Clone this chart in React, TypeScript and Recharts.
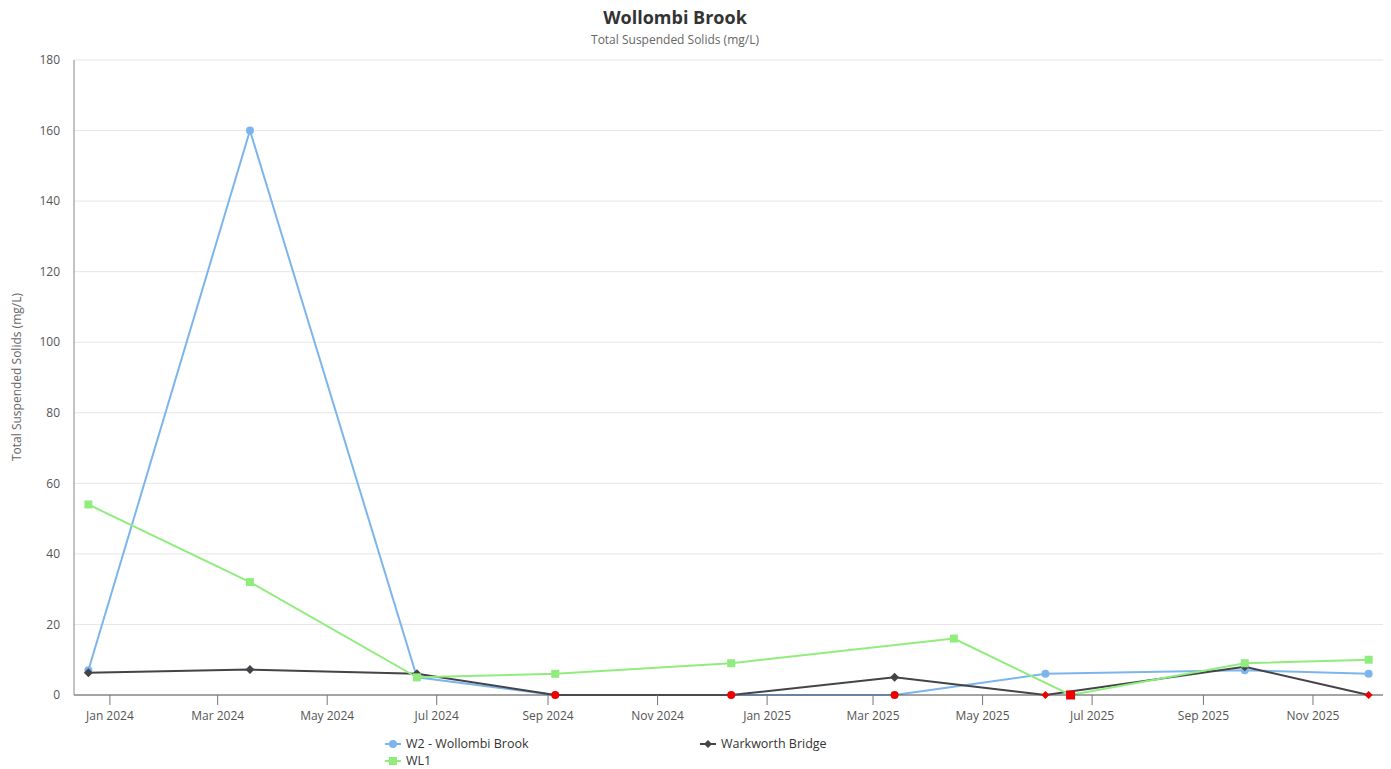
import React, { useEffect } from "react";
import { LineChart, Line, XAxis, YAxis, CartesianGrid } from "recharts";

// sample dates + values
const w2Dates = ["2023-12-20", "2024-03-19", "2024-06-20", "2024-09-05", "2024-12-12", "2025-03-13", "2025-06-05", "2025-09-24", "2025-12-02"];
const w2Values = [7, 160, 5, 0, 0, 0, 6, 7, 6];

const wl1Dates = ["2023-12-20", "2024-03-19", "2024-06-20", "2024-09-05", "2024-12-12", "2025-04-15", "2025-06-19", "2025-09-24", "2025-12-02"];
const wl1Values = [54, 32, 5, 6, 9, 16, 0, 9, 10];

const warkDates = ["2023-12-20", "2024-03-19", "2024-06-20", "2024-09-05", "2024-12-12", "2025-03-13", "2025-06-05", "2025-09-24", "2025-12-02"];
const warkValues = [6.3, 7.2, 6, 0, 0, 5, 0, 8, 0];

const xTickLabels = ["Jan 2024", "Mar 2024", "May 2024", "Jul 2024", "Sep 2024", "Nov 2024", "Jan 2025", "Mar 2025", "May 2025", "Jul 2025", "Sep 2025", "Nov 2025"];
const yTicks = [0, 20, 40, 60, 80, 100, 120, 140, 160, 180];

const MONTHS = ["Jan", "Feb", "Mar", "Apr", "May", "Jun", "Jul", "Aug", "Sep", "Oct", "Nov", "Dec"];
const toTs = (d: string) => Date.parse(d + "T00:00:00Z");
const labelToTs = (l: string) => {
  const [m, y] = l.split(" ");
  return Date.UTC(Number(y), MONTHS.indexOf(m), 1);
};
const xTicks = xTickLabels.map(labelToTs);
const fmtTick = (v: number) => {
  const d = new Date(v);
  return `${MONTHS[d.getUTCMonth()]} ${d.getUTCFullYear()}`;
};

const build = (dates: string[], values: number[]) =>
  dates.map((d, i) => ({ x: toTs(d), y: values[i] }));

const w2Data = build(w2Dates, w2Values);
const wl1Data = build(wl1Dates, wl1Values);
const warkData = build(warkDates, warkValues);

const BLUE = "#7cb5ec";
const GREEN = "#90ed7d";
const DARK = "#434348";
const RED = "#ee0000";
const FONT = "'Open Sans', 'Noto Sans', sans-serif";

const CircleDot = (props: any) => {
  const { cx, cy, value, index } = props;
  if (cx == null || cy == null) return <g key={index} />;
  return <circle key={index} cx={cx} cy={cy} r={4} fill={value === 0 ? RED : BLUE} />;
};

const SquareDot = (props: any) => {
  const { cx, cy, value, index } = props;
  if (cx == null || cy == null) return <g key={index} />;
  const s = value === 0 ? 9 : 8;
  return <rect key={index} x={cx - s / 2} y={cy - s / 2} width={s} height={s} fill={value === 0 ? RED : GREEN} />;
};

const DiamondDot = (props: any) => {
  const { cx, cy, value, index } = props;
  if (cx == null || cy == null) return <g key={index} />;
  const r = value === 0 ? 4 : 4.5;
  return (
    <path
      key={index}
      d={`M${cx} ${cy - r} L${cx + r} ${cy} L${cx} ${cy + r} L${cx - r} ${cy} Z`}
      fill={value === 0 ? RED : DARK}
    />
  );
};

const YTitle = () => (
  <text
    x={21}
    y={377}
    transform="rotate(-90 21 377)"
    textAnchor="middle"
    fontSize={12}
    fill="#666"
    fontFamily={FONT}
  >
    Total Suspended Solids (mg/L)
  </text>
);

function LegendItem({ color, label, shape }: { color: string; label: string; shape: string }) {
  return (
    <div style={{ display: "flex", alignItems: "center", gap: 5, height: 16.5 }}>
      <svg width={16} height={10}>
        <line x1={0} y1={5} x2={16} y2={5} stroke={color} strokeWidth={2} />
        {shape === "circle" && <circle cx={8} cy={5} r={4} fill={color} />}
        {shape === "square" && <rect x={4} y={1} width={8} height={8} fill={color} />}
        {shape === "diamond" && <path d="M8 1 L12 5 L8 9 L4 5 Z" fill={color} />}
      </svg>
      <span>{label}</span>
    </div>
  );
}

export default function App() {
  useEffect(() => {
    document.body.style.margin = "0";
  }, []);

  return (
    <div style={{ position: "relative", width: 1391, height: 769, background: "#fff", fontFamily: FONT, overflow: "hidden" }}>
      <div style={{ position: "absolute", left: 0, width: 1350, top: 5, textAlign: "center", fontSize: 18, fontWeight: 700, color: "#333" }}>
        Wollombi Brook
      </div>
      <div style={{ position: "absolute", left: 0, width: 1350, top: 31, textAlign: "center", fontSize: 12, color: "#666" }}>
        Total Suspended Solids (mg/L)
      </div>
      <LineChart
        width={1391}
        height={769}
        margin={{ top: 60, right: 8, left: 0, bottom: 44 }}
        style={{ position: "absolute", left: 0, top: 0 }}
      >
        <CartesianGrid vertical={false} stroke="#e6e6e6" />
        <XAxis
          dataKey="x"
          type="number"
          scale="time"
          domain={[toTs("2023-12-12"), toTs("2025-12-10")]}
          ticks={xTicks}
          tickFormatter={fmtTick}
          allowDataOverflow
          height={30}
          tickSize={10}
          tickMargin={6}
          stroke="#555"
          tick={{ fill: "#555", fontSize: 12, fontFamily: FONT }}
          tickLine={{ stroke: "#777" }}
        />
        <YAxis
          type="number"
          domain={[0, 180]}
          ticks={yTicks}
          width={74}
          tickLine={false}
          tickMargin={8}
          stroke="#888"
          tick={{ fill: "#555", fontSize: 12, fontFamily: FONT }}
          label={<YTitle />}
        />
        <Line
          data={w2Data}
          dataKey="y"
          stroke={BLUE}
          strokeWidth={2}
          dot={CircleDot}
          activeDot={false}
          isAnimationActive={false}
        />
        <Line
          data={warkData}
          dataKey="y"
          stroke={DARK}
          strokeWidth={2}
          dot={DiamondDot}
          activeDot={false}
          isAnimationActive={false}
        />
        <Line
          data={wl1Data}
          dataKey="y"
          stroke={GREEN}
          strokeWidth={2}
          dot={SquareDot}
          activeDot={false}
          isAnimationActive={false}
        />
      </LineChart>
      <div style={{ position: "absolute", left: 385, top: 736, fontSize: 12.5, color: "#333", lineHeight: "16.5px" }}>
        <LegendItem color={BLUE} label="W2 - Wollombi Brook" shape="circle" />
        <LegendItem color={GREEN} label="WL1" shape="square" />
      </div>
      <div style={{ position: "absolute", left: 700, top: 736, fontSize: 12.5, color: "#333", lineHeight: "16.5px" }}>
        <LegendItem color={DARK} label="Warkworth Bridge" shape="diamond" />
      </div>
    </div>
  );
}
